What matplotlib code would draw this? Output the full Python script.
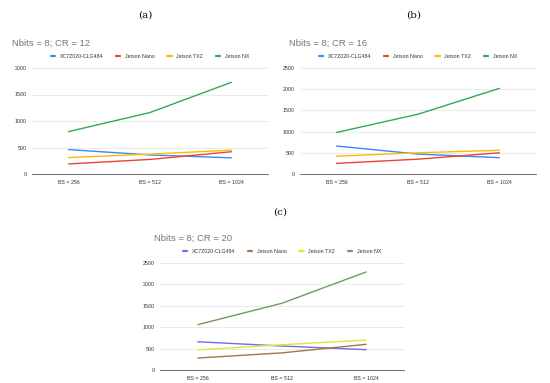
import matplotlib
matplotlib.use("Agg")
import matplotlib.pyplot as plt

# categories and series
block_sizes = ['BS = 256', 'BS = 512', 'BS = 1024']
devices = ['XC7Z020-CLG484', 'Jetson Nano', 'Jetson TX2', 'Jetson NX']

cr12 = {
    'XC7Z020-CLG484': [460, 360, 305],
    'Jetson Nano': [190, 275, 420],
    'Jetson TX2': [310, 375, 450],
    'Jetson NX': [800, 1160, 1730],
}
cr16 = {
    'XC7Z020-CLG484': [660, 470, 385],
    'Jetson Nano': [250, 350, 500],
    'Jetson TX2': [420, 500, 560],
    'Jetson NX': [980, 1410, 2020],
}
cr20 = {
    'XC7Z020-CLG484': [660, 560, 475],
    'Jetson Nano': [280, 400, 600],
    'Jetson TX2': [470, 590, 700],
    'Jetson NX': [1060, 1560, 2290],
}

colors_ab = ['#4285F4', '#EA4335', '#FBBC04', '#34A853']
colors_c = ['#6F6FE6', '#A87548', '#E3E33C', '#6C9E5E']

W, H = 550, 383
fig = plt.figure(figsize=(W / 100, H / 100), dpi=100)
fig.patch.set_facecolor('white')


def px_axes(left, top, right, bottom):
    return fig.add_axes([left / W, 1 - bottom / H, (right - left) / W, (bottom - top) / H])


def draw_panel(ax, data, colors, ymax, title, title_x, title_y):
    x = range(len(block_sizes))
    for dev, col in zip(devices, colors):
        ax.plot(x, data[dev], color=col, lw=1.0, label=dev, solid_capstyle='round')
    ax.set_xlim(-0.45, 2.45)
    ax.set_ylim(0, ymax)
    ax.set_yticks(range(0, ymax + 1, 500))
    ax.set_xticks(list(x))
    ax.set_xticklabels(block_sizes)
    ax.grid(axis='y', color='#e6e6e6', lw=0.6)
    ax.set_axisbelow(True)
    for s in ['top', 'right', 'left']:
        ax.spines[s].set_visible(False)
    ax.spines['bottom'].set_color('#555555')
    ax.spines['bottom'].set_linewidth(0.6)
    ax.tick_params(length=0, labelsize=3.8, colors='#333333', pad=4)
    leg = ax.legend(loc='lower center', bbox_to_anchor=(0.5, 1.04), ncol=4, frameon=False,
                    fontsize=3.8, handlelength=0.8, handletextpad=0.9, columnspacing=2.4,
                    labelcolor='#333333')
    for h in leg.legend_handles:
        h.set_linewidth(1.6)
    fig.text(title_x / W, 1 - title_y / H, title, fontsize=6.8, color='#777777',
             va='center', ha='left')


plt.rcParams['font.family'] = ['Liberation Sans', 'DejaVu Sans']

ax_a = px_axes(32, 68, 268, 174)
draw_panel(ax_a, cr12, colors_ab, 2000, 'Nbits = 8; CR = 12', 12, 43)
ax_b = px_axes(300, 68, 536, 174)
draw_panel(ax_b, cr16, colors_ab, 2500, 'Nbits = 8; CR = 16', 289, 43)
ax_c = px_axes(160, 263, 404, 370)
draw_panel(ax_c, cr20, colors_c, 2500, 'Nbits = 8; CR = 20', 154, 238)

for lbl, xp, yp in [('(a)', 145, 15), ('(b)', 414, 15), ('(c)', 280, 212)]:
    fig.text(xp / W, 1 - yp / H, lbl, fontsize=7.5, family='DejaVu Serif',
             ha='center', va='center', color='#111111')

fig.savefig('out.png', dpi=100)
